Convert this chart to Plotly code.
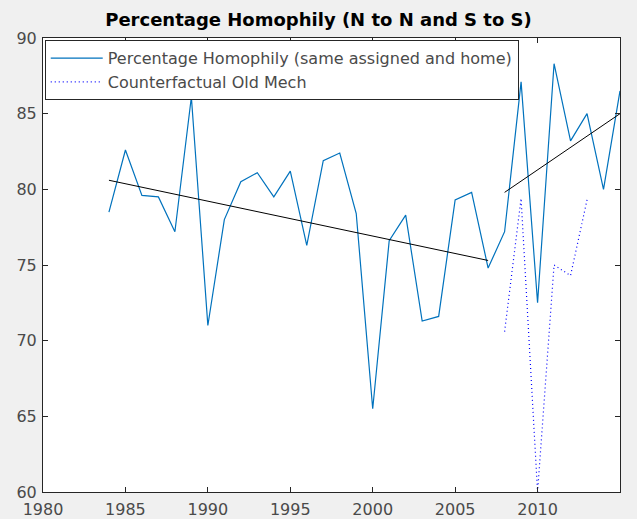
import plotly.graph_objects as go

years = [1984, 1985, 1986, 1987, 1988, 1989, 1990, 1991, 1992, 1993, 1994, 1995,
         1996, 1997, 1998, 1999, 2000, 2001, 2002, 2003, 2004, 2005, 2006, 2007,
         2008, 2009, 2010, 2011, 2012, 2013, 2014, 2015]
homophily = [78.5, 82.6, 79.6, 79.5, 77.2, 86.1, 71.0, 78.0, 80.5, 81.1, 79.5, 81.2,
             76.3, 81.9, 82.4, 78.4, 65.5, 76.6, 78.3, 71.3, 71.6, 79.3, 79.8, 74.8,
             77.2, 87.1, 72.5, 88.3, 83.2, 85.0, 80.0, 86.5]

cf_years = [2008, 2009, 2010, 2011, 2012, 2013]
counterfactual = [70.6, 79.4, 60.0, 75.0, 74.3, 79.3]

trend1_years = [1984, 2007]
trend1_vals = [80.6, 75.3]
trend2_years = [2008, 2015]
trend2_vals = [79.8, 85.0]

x_ticks = [1980, 1985, 1990, 1995, 2000, 2005, 2010, 2015]
y_ticks = [60, 65, 70, 75, 80, 85, 90]

title_text = "Percentage Homophily (N to N and S to S)"
label_main = "Percentage Homophily (same assigned and home)"
label_cf = "Counterfactual Old Mech"

fig = go.Figure()
fig.add_trace(go.Scatter(x=years, y=homophily, mode="lines", name=label_main,
                         line=dict(color="#0072BD", width=1.2)))
fig.add_trace(go.Scatter(x=cf_years, y=counterfactual, mode="lines", name=label_cf,
                         line=dict(color="#0000FF", width=1.2, dash="1px,3px")))
fig.add_trace(go.Scatter(x=trend1_years, y=trend1_vals, mode="lines", showlegend=False,
                         line=dict(color="#000000", width=1)))
fig.add_trace(go.Scatter(x=trend2_years, y=trend2_vals, mode="lines", showlegend=False,
                         line=dict(color="#000000", width=1)))

axis_common = dict(showline=True, linecolor="#262626", linewidth=1, mirror="ticks",
                   ticks="inside", ticklen=5, tickcolor="#262626", showgrid=False,
                   zeroline=False, automargin=False,
                   tickfont=dict(family="DejaVu Sans", size=16, color="#4a4a4a"))

fig.update_xaxes(range=[1980, 2015], tickvals=x_ticks, ticklabelstandoff=3, **axis_common)
fig.update_yaxes(range=[60, 90], tickvals=y_ticks, ticklabelstandoff=2, **axis_common)

fig.update_layout(
    width=637, height=519,
    margin=dict(l=43, r=17, t=38, b=27, autoexpand=False),
    paper_bgcolor="#f0f0f0", plot_bgcolor="#ffffff",
    title=dict(text="<b>" + title_text + "</b>", x=0.5, xanchor="center",
               y=1 - 20 / 519, yanchor="middle",
               font=dict(family="DejaVu Sans", size=18, color="#000000")),
    legend=dict(x=0.003, y=0.995, xanchor="left", yanchor="top",
                bgcolor="#ffffff", bordercolor="#262626", borderwidth=1,
                font=dict(family="DejaVu Sans", size=16, color="#4a4a4a"),
                itemwidth=52, tracegroupgap=0),
    showlegend=True,
)

fig.write_html("out.html", config={"displayModeBar": False},
               post_script="document.body.style.margin='0';document.body.style.background='#f0f0f0';")
